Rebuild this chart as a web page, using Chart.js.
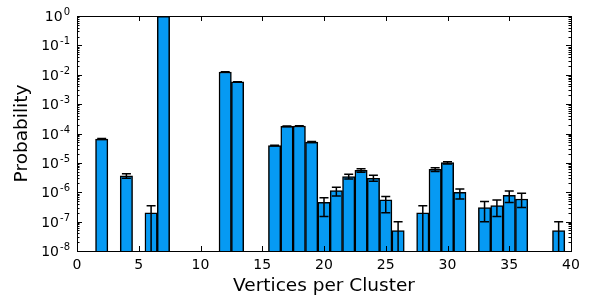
<!DOCTYPE html>
<html>
<head>
<meta charset="utf-8">
<script src="https://cdn.jsdelivr.net/npm/chart.js@4"></script>
<style>
html,body{margin:0;padding:0;background:#fff;}
#wrap{width:590px;height:297px;}
</style>
</head>
<body>
<div id="wrap"><canvas id="c" width="590" height="297"></canvas></div>
<script>
const verticesPerCluster = [2,4,6,7,12,13,16,17,18,19,20,21,22,23,24,25,26,28,29,30,31,33,34,35,36,39];
const probability = [6.5e-5,3.6e-6,2.0e-7,0.98,1.24e-2,5.7e-3,3.9e-5,1.76e-4,1.8e-4,5.1e-5,4.5e-7,1.13e-6,3.4e-6,5.6e-6,3.0e-6,5.5e-7,5.0e-8,2.0e-7,6.0e-6,1.02e-5,1.0e-6,3.0e-7,3.5e-7,7.9e-7,5.9e-7,5.0e-8];
const errorHigh = [6.8e-5,4.3e-6,3.5e-7,0.98,1.26e-2,5.8e-3,4.0e-5,1.8e-4,1.84e-4,5.3e-5,6.5e-7,1.48e-6,4.1e-6,6.3e-6,3.8e-6,7.1e-7,1.0e-7,3.5e-7,6.8e-6,1.1e-5,1.3e-6,4.8e-7,5.5e-7,1.1e-6,9.2e-7,1.0e-7];
const errorLow = [6.2e-5,3.0e-6,0,0.98,1.22e-2,5.6e-3,3.8e-5,1.72e-4,1.76e-4,4.9e-5,1.5e-7,7.4e-7,2.8e-6,4.8e-6,2.35e-6,2.0e-7,0,0,5.1e-6,9.2e-6,5.9e-7,1.0e-7,1.5e-7,4.5e-7,3.0e-7,0];
const xTickValues = [0,5,10,15,20,25,30,35,40];
const yTickExponents = [-8,-7,-6,-5,-4,-3,-2,-1,0];
const yTickExponentLabels = ['-8','-7','-6','-5','-4','-3','-2','-1','0'];

const FONT = 'DejaVu Sans';

const framePlugin = {
  id: 'frameTicks',
  afterDatasetsDraw(chart) {
    const {ctx, chartArea: a, scales: {x, y}} = chart;
    ctx.save();
    // error bars
    ctx.strokeStyle = '#000';
    ctx.lineWidth = 1.5;
    for (let i = 0; i < verticesPerCluster.length; i++) {
      const px = x.getPixelForValue(verticesPerCluster[i]);
      const hi = errorHigh[i], lo = errorLow[i];
      if (hi === lo) continue;
      const yh = y.getPixelForValue(hi);
      const yl = lo > 0 ? y.getPixelForValue(lo) : a.bottom;
      ctx.beginPath();
      ctx.moveTo(px, yh); ctx.lineTo(px, yl);
      ctx.moveTo(px - 4.5, yh); ctx.lineTo(px + 4.5, yh);
      if (lo > 0) { ctx.moveTo(px - 4.5, yl); ctx.lineTo(px + 4.5, yl); }
      ctx.stroke();
    }
    // frame
    ctx.lineWidth = 1;
    ctx.strokeStyle = '#000';
    ctx.strokeRect(Math.round(a.left) + 0.5, Math.round(a.top) + 0.5, Math.round(a.right - a.left), Math.round(a.bottom - a.top));
    // x ticks (inside, top & bottom)
    ctx.beginPath();
    xTickValues.forEach(v => {
      const px = Math.round(x.getPixelForValue(v)) + 0.5;
      ctx.moveTo(px, a.bottom); ctx.lineTo(px, a.bottom - 5);
      ctx.moveTo(px, a.top); ctx.lineTo(px, a.top + 5);
    });
    // y ticks major & minor (inside, left & right)
    yTickExponents.forEach(e => {
      for (let m = 1; m <= 9; m++) {
        const v = m * Math.pow(10, e);
        if (v > 1.0000001) break;
        const py = Math.round(y.getPixelForValue(v)) + 0.5;
        const len = m === 1 ? 5 : 2.5;
        ctx.moveTo(a.left, py); ctx.lineTo(a.left + len, py);
        ctx.moveTo(a.right, py); ctx.lineTo(a.right - len, py);
      }
    });
    ctx.stroke();
    // y tick labels: 10 with superscript exponent
    ctx.fillStyle = '#000';
    ctx.textBaseline = 'alphabetic';
    const rightEdge = a.left - 7;
    yTickExponents.forEach((e, i) => {
      const py = y.getPixelForValue(Math.pow(10, e));
      ctx.font = '10px ' + FONT;
      const expText = yTickExponentLabels[i];
      const ew = ctx.measureText(expText).width;
      ctx.textAlign = 'left';
      ctx.fillText(expText, rightEdge - ew, py - 1);
      ctx.font = '14px ' + FONT;
      ctx.textAlign = 'right';
      ctx.fillText('10', rightEdge - ew - 1, py + 5);
    });
    ctx.restore();
  }
};

new Chart(document.getElementById('c'), {
  type: 'bar',
  data: {
    datasets: [{
      data: verticesPerCluster.map((v, i) => ({x: v, y: probability[i]})),
      backgroundColor: '#069AF3',
      borderColor: '#000',
      borderWidth: 1.5,
      barPercentage: 1.0,
      categoryPercentage: 1.0
    }]
  },
  options: {
    responsive: false,
    animation: false,
    devicePixelRatio: 1,
    layout: {padding: {left: 0, right: 19, top: 16, bottom: 0}},
    plugins: {legend: {display: false}, tooltip: {enabled: false}},
    scales: {
      x: {
        type: 'linear', min: 0, max: 40, offset: false,
        grid: {display: false, drawTicks: false, tickLength: 0, offset: false}, border: {display: false},
        afterBuildTicks: s => { s.ticks = xTickValues.map(v => ({value: v})); },
        ticks: {color: '#000', font: {family: FONT, size: 14}, padding: 6, maxRotation: 0,
                callback: v => String(v)},
        title: {display: true, text: 'Vertices per Cluster', color: '#000',
                font: {family: FONT, size: 18.5}, padding: {top: 0, bottom: 0}},
        afterFit: s => { s.height = 46; }
      },
      y: {
        type: 'logarithmic', min: 1e-8, max: 1,
        grid: {display: false, drawTicks: false, tickLength: 0}, border: {display: false},
        afterBuildTicks: s => { s.ticks = yTickExponents.map(e => ({value: Math.pow(10, e)})); },
        ticks: {display: false},
        title: {display: true, text: 'Probability', color: '#000',
                font: {family: FONT, size: 18.5}, padding: {top: 11, bottom: 0}},
        afterFit: s => { s.width = 77; }
      }
    }
  },
  plugins: [framePlugin]
});
</script>
</body>
</html>
